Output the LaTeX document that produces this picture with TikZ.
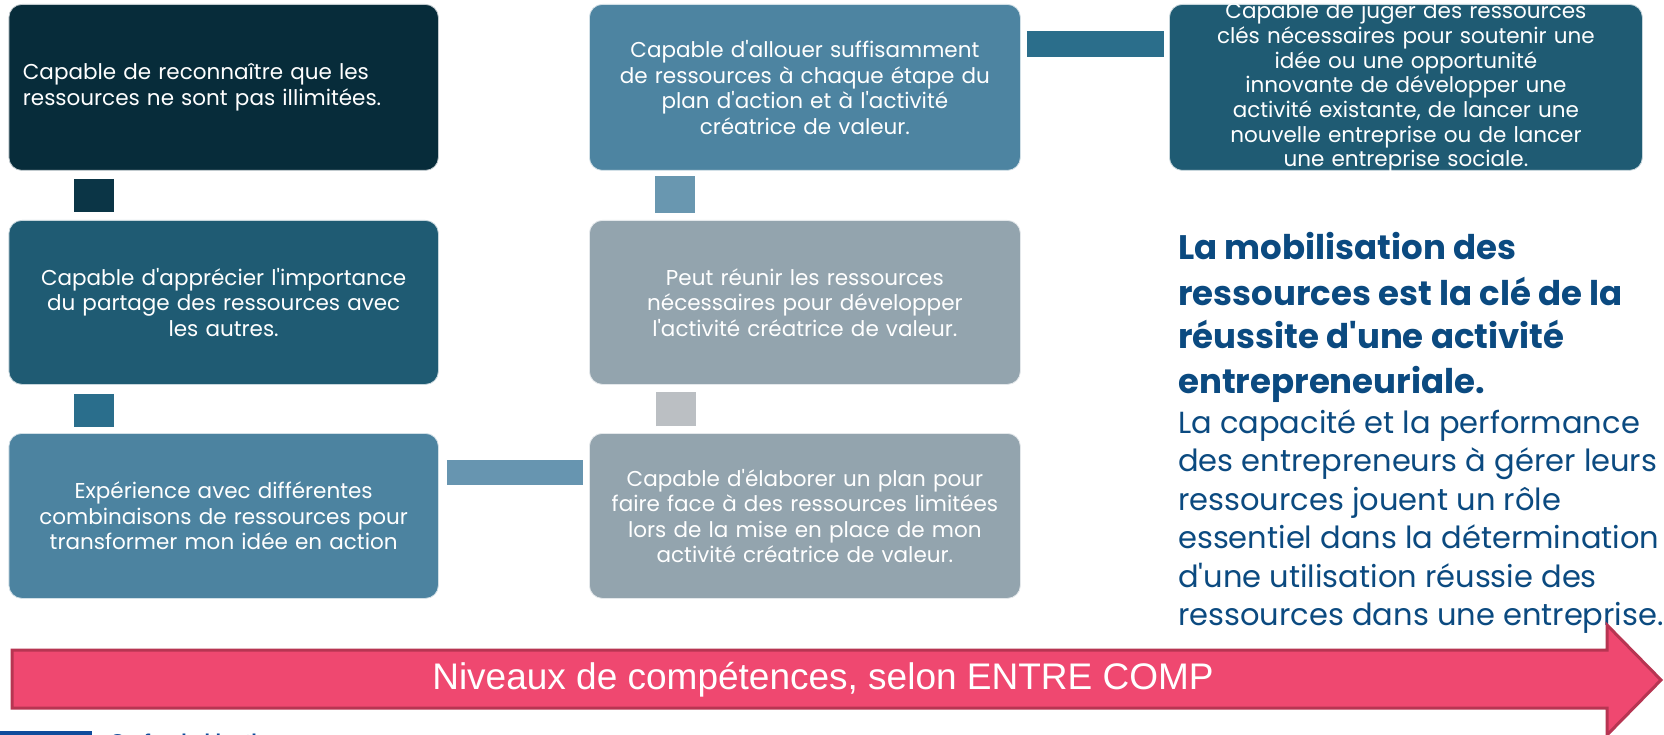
\documentclass[tikz,border=0pt]{standalone}
\usepackage{fontspec}
\newfontfamily\popf{Poppins}
\newfontfamily\arialf{Liberation Sans}
\usetikzlibrary{calc}
\definecolor{cA}{HTML}{072C3A}
\definecolor{cB}{HTML}{1F5B73}
\definecolor{cC}{HTML}{4C83A0}
\definecolor{cD}{HTML}{4D84A1}
\definecolor{cE}{HTML}{93A4AE}
\definecolor{cG}{HTML}{1F5B73}
\definecolor{kAB}{HTML}{0B3546}
\definecolor{kBC}{HTML}{2A6E8C}
\definecolor{kCF}{HTML}{6795B0}
\definecolor{kFE}{HTML}{BBBFC3}
\definecolor{kED}{HTML}{6997B0}
\definecolor{kDG}{HTML}{2B6E8B}
\definecolor{arrowfill}{HTML}{EF4870}
\definecolor{arrowdraw}{HTML}{B73552}
\definecolor{titleblue}{HTML}{0B4A80}
\definecolor{eublue}{HTML}{0F4C9C}
\tikzset{
  box/.style={rounded corners=13pt, draw=white!75!#1, line width=0.8pt, fill=#1, text=white,
    anchor=north west, inner xsep=10pt, inner ysep=0pt,
    font=\popf\fontsize{21.5}{25.5}\selectfont, align=center},
  vconn/.style={draw=#1, line width=40pt},
  hconn/.style={draw=#1, line width=25.5pt},
  ttl/.style={anchor=base west, inner sep=0pt, text=titleblue, font=\popf\fontsize{34}{40}\selectfont\bfseries},
  bdy/.style={anchor=base west, inner sep=0pt, text=titleblue, font=\popf\fontsize{30.5}{36}\selectfont},
}
\begin{document}
\begin{tikzpicture}[x=1pt,y=-1pt]
\useasboundingbox (0,0) rectangle (1664,735);
\clip (0,0) rectangle (1664,735);
\fill[white] (0,0) rectangle (1664,735);

% boxes
\node[box=cA, minimum width=429.5pt, minimum height=166pt, text width=401.5pt, align=left, inner xsep=14pt] (A) at (8.5,4)
  {Capable de reconnaître que les\\ressources ne sont pas illimitées.};
\node[box=cB, minimum width=429.5pt, minimum height=164pt, text width=409.5pt] (B) at (8.5,220)
  {Capable d'apprécier l'importance\\du partage des ressources avec\\les autres.};
\node[box=cC, minimum width=429.5pt, minimum height=165pt, text width=409.5pt] (C) at (8.5,433)
  {Expérience avec différentes\\combinaisons de ressources pour\\transformer mon idée en action};
\node[box=cD, minimum width=431pt, minimum height=166pt, text width=411pt] (D) at (589,4)
  {Capable d'allouer suffisamment\\de ressources à chaque étape du\\plan d'action et à l'activité\\créatrice de valeur.};
\node[box=cE, minimum width=431pt, minimum height=164pt, text width=411pt] (E) at (589,220)
  {Peut réunir les ressources\\nécessaires pour développer\\l'activité créatrice de valeur.};
\node[box=cE, minimum width=431pt, minimum height=165pt, text width=411pt] (F) at (589,433)
  {Capable d'élaborer un plan pour\\faire face à des ressources limitées\\lors de la mise en place de mon\\activité créatrice de valeur.};
\node[box=cG, minimum width=473pt, minimum height=166pt, text width=453pt] (G) at (1169,4) {};
\begin{scope}
  \clip[rounded corners=13pt] (G.north west) rectangle (G.south east);
  \node[text=white, font=\popf\fontsize{21.5}{24.7}\selectfont, align=center, text width=453pt, inner sep=0pt] (Gt) at (G.center)
    {Capable de juger des ressources\\clés nécessaires pour soutenir une\\idée ou une opportunité\\innovante de développer une\\activité existante, de lancer une\\nouvelle entreprise ou de lancer\\une entreprise sociale.};
\end{scope}

% connectors
\draw[vconn=kAB, shorten <=8pt, shorten >=8pt] ([xshift=85.5pt]A.south west) -- ([xshift=85.5pt]B.north west);
\draw[vconn=kBC, shorten <=9pt, shorten >=6pt] ([xshift=85.5pt]B.south west) -- ([xshift=85.5pt]C.north west);
\draw[hconn=kCF, shorten <=8pt, shorten >=6pt] ([yshift=-39.5pt]C.north east) -- ([yshift=-39.5pt]F.north west);
\draw[vconn=kFE, shorten <=7pt, shorten >=7pt] ([xshift=86.5pt]F.north west) -- ([xshift=86.5pt]E.south west);
\draw[vconn=kED, shorten <=7pt, shorten >=5pt] ([xshift=86pt]E.north west) -- ([xshift=86pt]D.south west);
\draw[draw=kDG, line width=26pt, shorten <=6pt, shorten >=5pt] ([yshift=-40pt]D.north east) -- ([yshift=-40pt]G.north west);

% right text
\node[ttl] (t1) at (1178,260) {La mobilisation des};
\node[ttl] (t2) at (1178,305) {ressources est la clé de la};
\node[ttl] (t3) at (1178,348) {réussite d'une activité};
\node[ttl] (t4) at (1178,393) {entrepreneuriale.};
\node[bdy] (b1) at (1178,433) {La capacité et la performance};
\node[bdy] (b2) at (1178,471) {des entrepreneurs à gérer leurs};
\node[bdy] (b3) at (1178,510) {ressources jouent un rôle};
\node[bdy] (b4) at (1178,548) {essentiel dans la détermination};
\node[bdy] (b5) at (1178,587) {d'une utilisation réussie des};
\node[bdy] (b6) at (1178,625) {ressources dans une entreprise.};

% big arrow
\draw[fill=arrowfill, draw=arrowdraw, line width=3pt, line join=miter]
  (12,650) -- (1607,650) -- (1607,625) -- (1661,680) -- (1607,735) -- (1607,708) -- (12,708) -- cycle;
\node[text=white, font=\arialf\fontsize{37}{40}\selectfont, inner sep=0pt] (lvl) at (823,680) {Niveaux de compétences, selon ENTRE COMP};

% bottom strip (cut off in the reference)
\fill[eublue] (0,731) rectangle (92,740);
\node[anchor=base west, inner sep=0pt, text=eublue, font=\arialf\bfseries\fontsize{20}{24}\selectfont] (cof) at (110,748) {Co-funded by the};
\end{tikzpicture}
\end{document}
